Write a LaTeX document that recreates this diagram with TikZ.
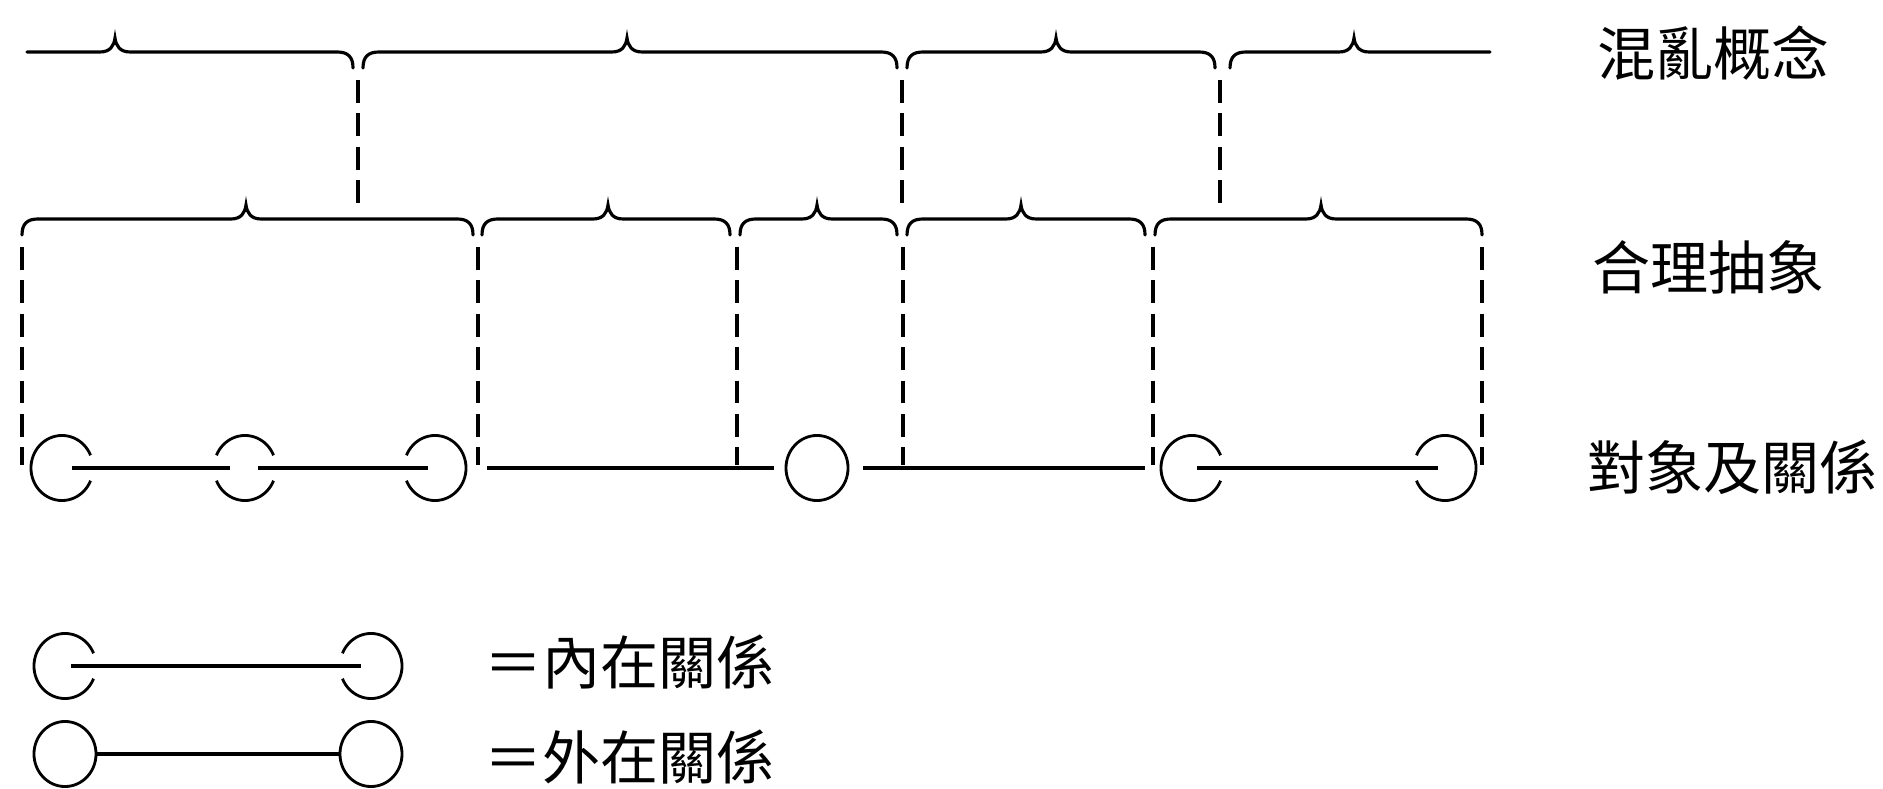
\documentclass[tikz,border=0pt]{standalone}
\usepackage{fontspec}
\newfontfamily\cjk{Noto Sans CJK TC}
\usetikzlibrary{shapes.geometric}
\tikzset{
  bline/.style={line width=0.9pt, line cap=round},
  vdash/.style={line width=1pt, dash pattern=on 6.5pt off 3pt},
  ring/.style={line width=0.8pt},
  rel/.style={line width=0.9pt},
  lbl/.style={anchor=west, inner sep=0pt, font=\cjk\fontsize{16.5pt}{18pt}\selectfont},
  dot/.style={ellipse, line width=0.8pt, minimum width=0.62cm, minimum height=0.65cm, inner sep=0pt},
}
% brace with curled ends: x0, peak, x1, y
\newcommand{\bracefull}[4]{\draw[bline] (#1,#4-16) .. controls (#1,#4-5) and (#1+5,#4) .. (#1+16,#4) -- (#2-15,#4) .. controls (#2-5,#4) and (#2-1,#4+6) .. (#2,#4+14) .. controls (#2+1,#4+6) and (#2+5,#4) .. (#2+15,#4) -- (#3-16,#4) .. controls (#3-5,#4) and (#3,#4-5) .. (#3,#4-16);}
\newcommand{\openright}[1]{\draw[ring] ([shift={(23:0.31cm and 0.325cm)}]#1.center) arc[start angle=23, end angle=337, x radius=0.31cm, y radius=0.325cm];}
\newcommand{\openleft}[1]{\draw[ring] ([shift={(-157:0.31cm and 0.325cm)}]#1.center) arc[start angle=-157, end angle=157, x radius=0.31cm, y radius=0.325cm];}
\newcommand{\openboth}[1]{\draw[ring] ([shift={(23:0.31cm and 0.325cm)}]#1.center) arc[start angle=23, end angle=157, x radius=0.31cm, y radius=0.325cm];
  \draw[ring] ([shift={(203:0.31cm and 0.325cm)}]#1.center) arc[start angle=203, end angle=337, x radius=0.31cm, y radius=0.325cm];}
\begin{document}
\begin{tikzpicture}[x=0.01cm, y=0.01cm]
\useasboundingbox (0,0) rectangle (1883,788);

% ---- top row: confused concepts
\draw[bline] (27,736) -- (100,736) .. controls (110,736) and (114,742) .. (115,750) .. controls (116,742) and (120,736) .. (130,736) -- (337,736) .. controls (348,736) and (353,731) .. (353,720);
\bracefull{363}{627}{897}{736}
\bracefull{907}{1056}{1215}{736}
\draw[bline] (1230,720) .. controls (1230,731) and (1235,736) .. (1246,736) -- (1339,736) .. controls (1349,736) and (1353,742) .. (1354,750) .. controls (1355,742) and (1359,736) .. (1369,736) -- (1490,736);

% dashed links between top row and second row
\foreach \x in {358,902,1220} \draw[vdash] (\x,708) -- (\x,585);

% ---- second row: rational abstractions
\bracefull{22}{246}{473}{569}
\bracefull{482}{608}{730}{569}
\bracefull{740}{817}{897}{569}
\bracefull{907}{1021}{1145}{569}
\bracefull{1155}{1321}{1482}{569}

% dashed links between second row and objects
\foreach \x in {22,478,737,903,1153,1482} \draw[vdash] (\x,541) -- (\x,323);

% ---- third row: objects and relations
\node[dot] (o1) at (62,320) {};
\node[dot] (o2) at (245,320) {};
\node[dot] (o3) at (435,320) {};
\node[dot, draw] (o4) at (817,320) {};
\node[dot] (o5) at (1192,320) {};
\node[dot] (o6) at (1445,320) {};
\openright{o1}
\openboth{o2}
\openleft{o3}
\openright{o5}
\openleft{o6}
\draw[rel] ([xshift=0.1cm]o1.center) -- ([xshift=-0.15cm]o2.center);
\draw[rel] ([xshift=0.13cm]o2.center) -- ([xshift=-0.07cm]o3.center);
\draw[rel] ([xshift=0.52cm]o3.center) -- ([xshift=-0.11cm]o4.west);
\draw[rel] ([xshift=0.14cm]o4.east) -- ([xshift=-0.47cm]o5.center);
\draw[rel] ([xshift=0.05cm]o5.center) -- ([xshift=-0.07cm]o6.center);

% ---- row labels
\node[lbl] (t1) at (1597,735) {混亂概念};
\node[lbl] (t2) at (1592,521) {合理抽象};
\node[lbl] (t3) at (1587,321) {對象及關係};

% ---- legend
\node[dot] (la) at (65,122) {};
\node[dot] (lb) at (371,122) {};
\openright{la}
\openleft{lb}
\draw[rel] ([xshift=0.06cm]la.center) -- ([xshift=-0.1cm]lb.center);
\node[lbl] (lt1) at (484,126) {＝內在關係};

\node[dot, draw] (ma) at (65,34) {};
\node[dot, draw] (mb) at (371,34) {};
\draw[rel] (ma.east) -- (mb.west);
\node[lbl] (lt2) at (484,31) {＝外在關係};
\end{tikzpicture}
\end{document}
